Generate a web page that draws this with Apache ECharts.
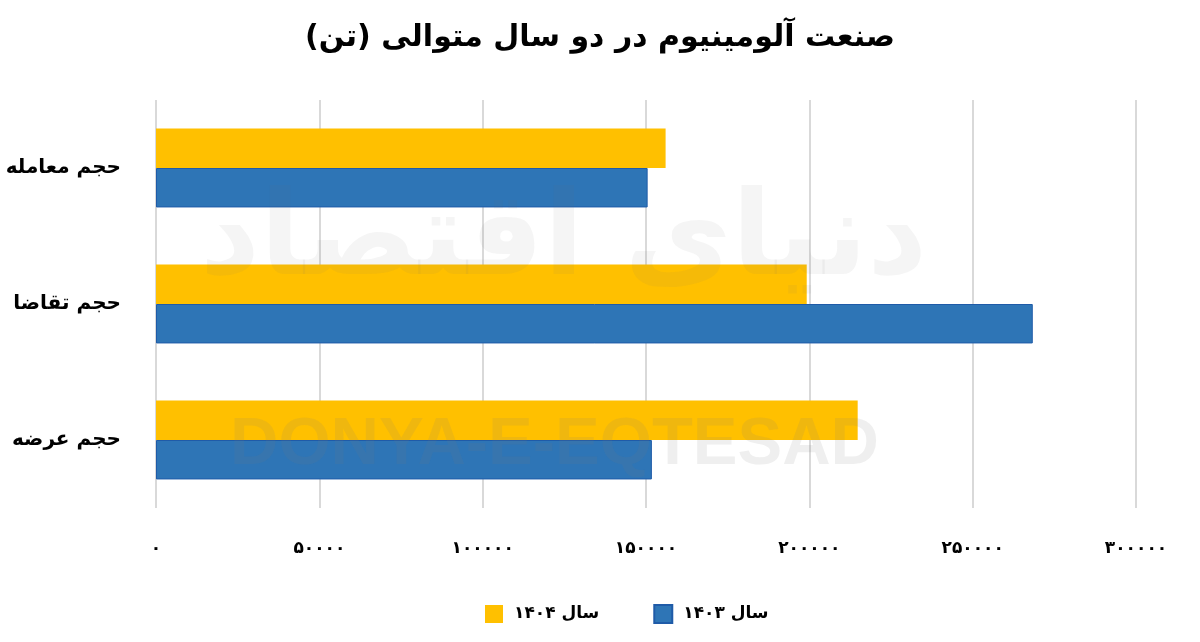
<!DOCTYPE html>
<html><head><meta charset="utf-8">
<script src="https://cdn.jsdelivr.net/npm/echarts@6/dist/echarts.min.js"></script>
<style>html,body{margin:0;padding:0;background:#fff}#c{width:1200px;height:642px}</style>
</head><body><div id="c"></div>
<script>
const titleText = 'صنعت آلومینیوم در دو سال متوالی (تن)';
const categories = ['حجم عرضه', 'حجم تقاضا', 'حجم معامله']; // bottom to top
const series1403Name = 'سال ۱۴۰۳';
const series1404Name = 'سال ۱۴۰۴';
const values1403 = [151800, 268400, 150500];
const values1404 = [214800, 199200, 156000];
const xTickLabels = ['۰', '۵۰۰۰۰', '۱۰۰۰۰۰', '۱۵۰۰۰۰', '۲۰۰۰۰۰', '۲۵۰۰۰۰', '۳۰۰۰۰۰'];
const xTickValues = [0, 50000, 100000, 150000, 200000, 250000, 300000];

const FONT = 'DejaVu Sans';
const chart = echarts.init(document.getElementById('c'));
chart.setOption({
  animation: false,
  backgroundColor: '#fff',
  title: {
    text: titleText, left: 'center', top: 18,
    textStyle: {fontFamily: FONT, fontWeight: 'bold', fontSize: 30, color: '#000'}
  },
  legend: {
    data: [series1404Name, series1403Name],
    bottom: 13, left: 480,
    itemWidth: 18, itemHeight: 18, itemGap: 54,
    icon: 'rect',
    textStyle: {fontFamily: FONT, fontWeight: 'bold', fontSize: 17, color: '#000', padding: [0, 0, 0, 6]}
  },
  grid: {left: 156, right: 64, top: 100, bottom: 134, containLabel: false},
  xAxis: {
    type: 'value', min: 0, max: 300000, interval: 50000,
    axisLine: {show: false}, axisTick: {show: false},
    splitLine: {lineStyle: {color: '#d9d9d9', width: 2}},
    axisLabel: {
      margin: 32, fontFamily: FONT, fontWeight: 'bold', fontSize: 17, color: '#000',
      formatter: v => xTickLabels[xTickValues.indexOf(v)]
    }
  },
  yAxis: {
    type: 'category', data: categories,
    axisLine: {show: false}, axisTick: {show: false},
    axisLabel: {margin: 35, fontFamily: FONT, fontWeight: 'bold', fontSize: 20, color: '#000'}
  },
  graphic: [
    {type: 'text', left: 230, top: 412, z: 100, silent: true,
     style: {text: 'DONYA-E-EQTESAD', fontFamily: 'Liberation Sans', fontWeight: 'bold', fontSize: 67,
             fill: 'rgba(120,120,120,0.12)'}},
    {type: 'text', left: 200, top: 185, z: 100, silent: true,
     style: {text: 'دنیای اقتصاد', fontFamily: FONT, fontWeight: 'bold', fontSize: 117,
             fill: 'rgba(120,120,120,0.07)'}}
  ],
  series: [
    {name: series1404Name, type: 'bar', data: values1404, barGap: '0%', barCategoryGap: '42%',
     itemStyle: {color: '#ffc000'}},
    {name: series1403Name, type: 'bar', data: values1403, barGap: '0%', barCategoryGap: '42%',
     itemStyle: {color: '#2e75b6', borderColor: '#1f5ba8', borderWidth: 1}}
  ]
});
</script></body></html>
